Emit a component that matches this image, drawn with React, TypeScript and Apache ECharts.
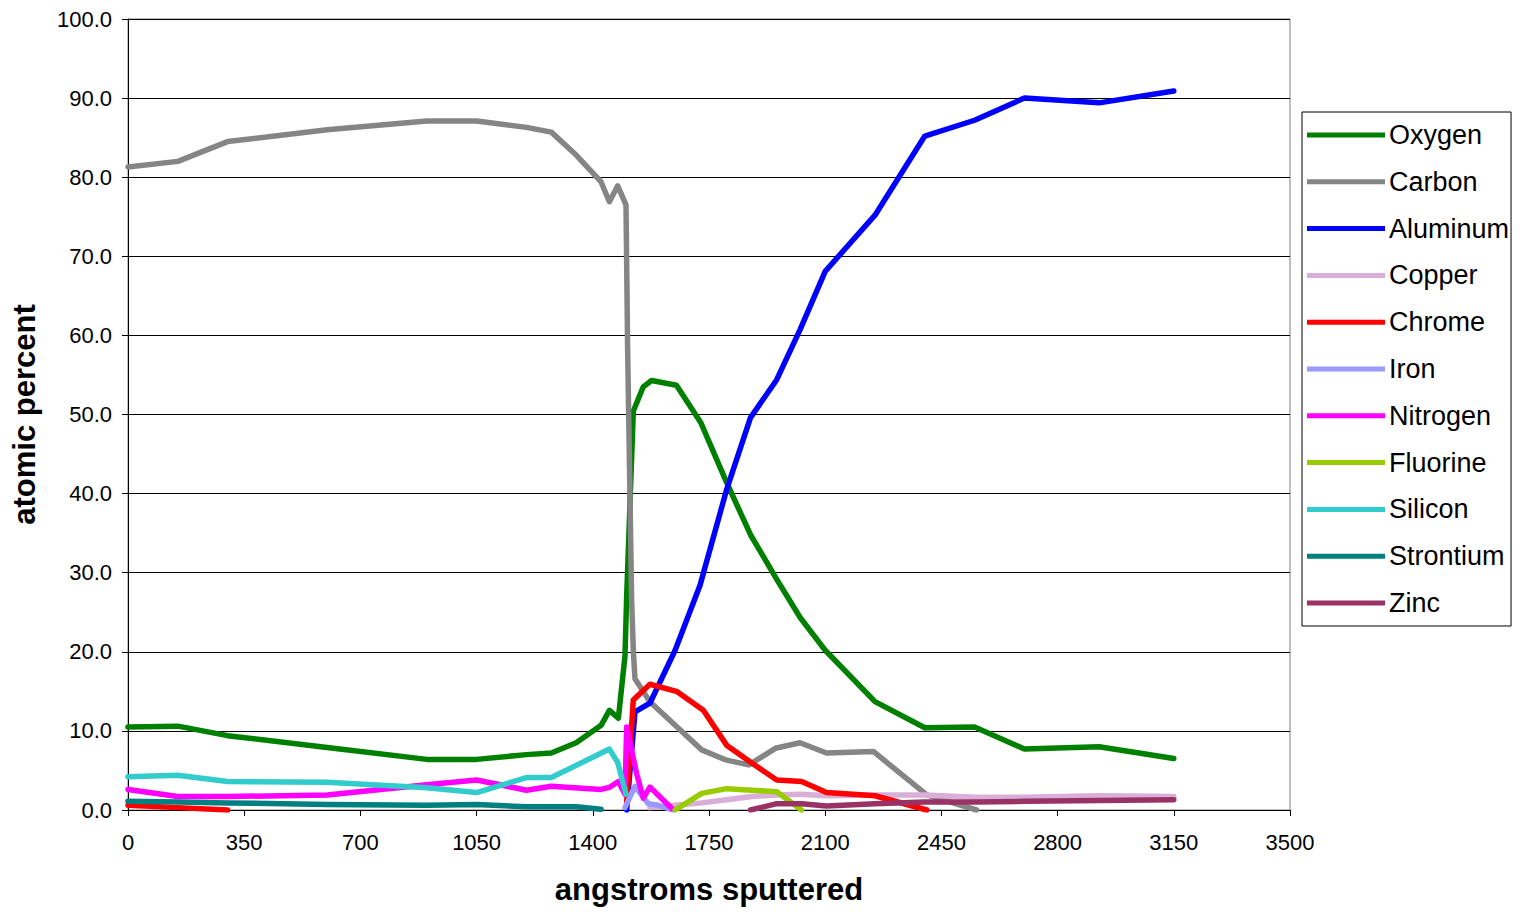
import React, { useEffect, useRef } from "react";
import * as echarts from "echarts";

// ---- data (depth in angstroms, atomic percent) ----
const oxygenX = [0, 150, 300, 600, 900, 1050, 1200, 1275, 1350, 1425, 1450, 1477, 1497, 1502, 1522, 1552, 1577, 1652, 1725, 1800, 1875, 1955, 2025, 2100, 2250, 2400, 2550, 2700, 2925, 3150];
const oxygenY = [10.5, 10.6, 9.4, 7.9, 6.4, 6.4, 7.0, 7.2, 8.5, 10.7, 12.6, 11.6, 19.5, 27.0, 50.4, 53.5, 54.3, 53.7, 49.0, 41.7, 34.8, 29.1, 24.3, 20.2, 13.7, 10.4, 10.5, 7.7, 8.0, 6.5];

const carbonX = [0, 150, 300, 600, 900, 1050, 1200, 1275, 1350, 1425, 1450, 1475, 1500, 1505, 1517, 1522, 1527, 1572, 1648, 1728, 1803, 1870, 1950, 2024, 2104, 2245, 2406, 2556];
const carbonY = [81.3, 82.0, 84.5, 86.0, 87.1, 87.1, 86.3, 85.7, 82.8, 79.4, 76.9, 78.9, 76.5, 58.0, 26.5, 20.2, 16.6, 13.7, 10.7, 7.6, 6.3, 5.7, 7.8, 8.5, 7.2, 7.4, 1.9, 0.0];

const aluminumX = [1502, 1527, 1572, 1648, 1723, 1803, 1875, 1954, 2024, 2100, 2250, 2400, 2550, 2700, 2925, 3150];
const aluminumY = [0.0, 12.4, 13.5, 20.2, 28.4, 40.5, 49.6, 54.4, 60.7, 68.1, 75.2, 85.2, 87.2, 90.0, 89.4, 90.9];

const copperX = [1572, 1648, 1728, 1803, 1880, 1954, 2024, 2104, 2250, 2400, 2550, 2700, 2925, 3150];
const copperY = [0.3, 0.6, 0.9, 1.3, 1.7, 1.9, 2.0, 1.8, 1.9, 1.9, 1.6, 1.6, 1.8, 1.7];

// "-" marks a gap (no reading) in the profile
const chromeX = [0, 150, 300, 900, 1502, 1522, 1572, 1652, 1733, 1803, 1880, 1954, 2029, 2104, 2250, 2406];
const chromeY: (number | string)[] = [0.6, 0.3, 0.0, "-", 1.0, 13.9, 15.9, 15.0, 12.6, 8.2, 5.9, 3.8, 3.6, 2.2, 1.8, 0.0];

const ironX = [1497, 1527, 1567, 1597, 1640];
const ironY = [0.3, 3.0, 0.8, 0.6, 0.0];

const nitrogenX = [0, 150, 300, 600, 900, 1050, 1200, 1275, 1425, 1452, 1477, 1497, 1502, 1532, 1552, 1572, 1638];
const nitrogenY = [2.6, 1.7, 1.7, 1.9, 3.2, 3.8, 2.5, 3.0, 2.6, 2.9, 3.6, 2.0, 10.5, 4.6, 1.5, 2.9, 0.2];

const fluorineX = [1648, 1728, 1803, 1880, 1954, 2029];
const fluorineY = [0.0, 2.1, 2.7, 2.5, 2.3, 0.0];

const siliconX = [0, 150, 300, 600, 900, 1050, 1200, 1275, 1450, 1475, 1500];
const siliconY = [4.2, 4.4, 3.6, 3.5, 2.8, 2.2, 4.1, 4.1, 7.7, 6.0, 2.0];

const strontiumX = [0, 150, 300, 600, 900, 1050, 1200, 1275, 1350, 1425];
const strontiumY = [1.1, 1.0, 0.9, 0.7, 0.6, 0.7, 0.4, 0.4, 0.4, 0.1];

const zincX = [1875, 1954, 2029, 2104, 2250, 2400, 2550, 2700, 2925, 3150];
const zincY = [0.0, 0.8, 0.8, 0.5, 0.8, 1.0, 1.0, 1.1, 1.2, 1.3];

const seriesNames = ["Oxygen", "Carbon", "Aluminum", "Copper", "Chrome", "Iron", "Nitrogen", "Fluorine", "Silicon", "Strontium", "Zinc"];
const seriesColors = ["#008000", "#858585", "#0000FF", "#D9AED9", "#FF0000", "#9999FF", "#FF00FF", "#99CC00", "#33CCCC", "#008080", "#993366"];
const seriesXs = [oxygenX, carbonX, aluminumX, copperX, chromeX, ironX, nitrogenX, fluorineX, siliconX, strontiumX, zincX];
const seriesYs: (number | string)[][] = [oxygenY, carbonY, aluminumY, copperY, chromeY, ironY, nitrogenY, fluorineY, siliconY, strontiumY, zincY];

const FONT = "'Liberation Sans', Arial, sans-serif";

export default function App() {
  const ref = useRef<HTMLDivElement>(null);
  useEffect(() => {
    if (!ref.current) return;
    const chart = echarts.init(ref.current, undefined, { renderer: "svg" });
    const series = seriesNames.map((name, i) => ({
      name,
      type: "line",
      data: seriesXs[i].map((x, j) => [x, seriesYs[i][j]]),
      showSymbol: false,
      symbol: "none",
      connectNulls: false,
      lineStyle: { color: seriesColors[i], width: 5.5, join: "round", cap: "round" },
      itemStyle: { color: seriesColors[i] },
      z: 2 + i,
    }));
    chart.setOption({
      animation: false,
      backgroundColor: "#ffffff",
      textStyle: { fontFamily: FONT },
      grid: { left: 128, right: 232, top: 19, bottom: 104, show: true, borderColor: "#808080", borderWidth: 1 },
      xAxis: {
        type: "value",
        min: 0,
        max: 3500,
        interval: 350,
        name: "angstroms sputtered",
        nameLocation: "middle",
        nameGap: 64,
        nameTextStyle: { fontSize: 31, fontWeight: "bold", color: "#000", fontFamily: FONT },
        axisLine: { show: true, lineStyle: { color: "#000", width: 1 } },
        axisTick: { show: true, length: 6, lineStyle: { color: "#000" } },
        axisLabel: { fontSize: 22, color: "#000", margin: 21, fontFamily: FONT, formatter: (v: number) => String(v) },
        splitLine: { show: false },
      },
      yAxis: {
        type: "value",
        min: 0,
        max: 100,
        interval: 10,
        name: "atomic percent",
        nameLocation: "middle",
        nameGap: 88,
        nameTextStyle: { fontSize: 31, fontWeight: "bold", color: "#000", fontFamily: FONT },
        axisLine: { show: true, lineStyle: { color: "#000", width: 1 } },
        axisTick: { show: true, length: 6, lineStyle: { color: "#000" } },
        axisLabel: { fontSize: 22, color: "#000", margin: 16, fontFamily: FONT, formatter: (v: number) => v.toFixed(1) },
        splitLine: { show: true, lineStyle: { color: "#000", width: 1 } },
      },
      legend: {
        orient: "vertical",
        left: 1302,
        top: 112,
        padding: [8, 2, 8, 5],
        itemGap: 16.8,
        itemWidth: 78,
        itemHeight: 5,
        icon: "rect",
        backgroundColor: "#fff",
        borderColor: "#000",
        borderWidth: 1,
        textStyle: { fontSize: 27, lineHeight: 30, color: "#000", fontFamily: FONT, padding: [0, 0, 0, -1] },
        data: seriesNames,
      },
      series,
    });
    return () => chart.dispose();
  }, []);
  return <div ref={ref} style={{ position: "absolute", left: 0, top: 0, width: 1522, height: 914 }} />;
}
